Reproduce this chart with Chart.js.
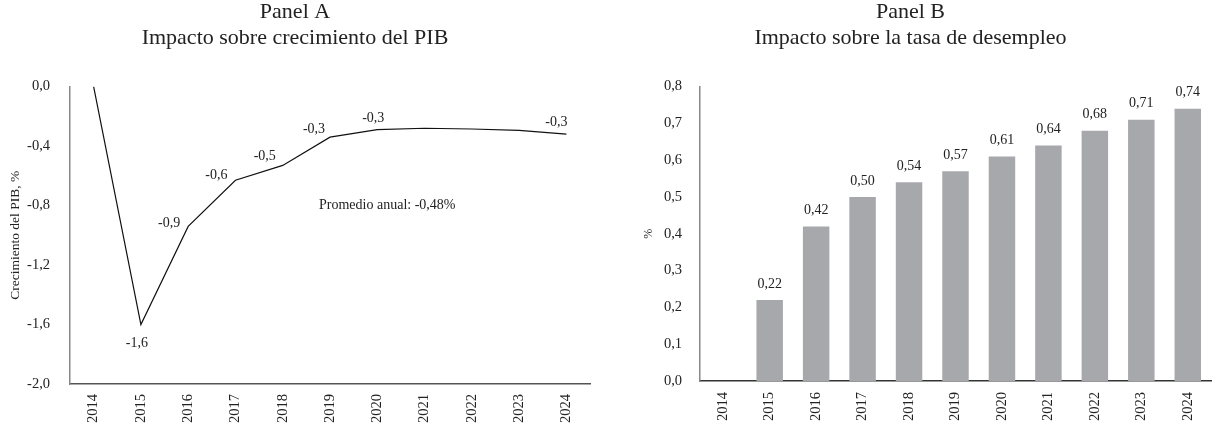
<!DOCTYPE html>
<html lang="es">
<head>
  <meta charset="UTF-8">
  <title>Impacto sobre PIB y desempleo</title>
  <script src="https://cdn.jsdelivr.net/npm/chart.js"></script>
  <style>
    body { margin: 0; background: white; }
    .panel { position: absolute; top: 0; height: 424px; }
    #panelA { left: 0; width: 600px; }
    #panelB { left: 610px; width: 607px; }
  </style>
</head>
<body>
  <div class="panel" id="panelA"><canvas id="chartA"></canvas></div>
  <div class="panel" id="panelB"><canvas id="chartB"></canvas></div>

  <script>
    // datos
    const years = ['2014', '2015', '2016', '2017', '2018', '2019', '2020', '2021', '2022', '2023', '2024'];
    const pibImpact = [0.0, -1.60, -0.94, -0.63, -0.53, -0.34, -0.29, -0.28, -0.285, -0.295, -0.32];
    const pibLabeled = [false, true, true, true, true, true, true, false, false, false, true];
    const unemploymentImpact = [null, 0.22, 0.42, 0.50, 0.54, 0.57, 0.61, 0.64, 0.68, 0.71, 0.74];
    const pibAverageText = 'Promedio anual: -0,48%';

    const FONT = '"Liberation Serif", "DejaVu Serif", serif';
    Chart.defaults.font.family = FONT;
    Chart.defaults.color = '#222';

    const comma = (v, d) => v.toFixed(d).replace('.', ',');

    // desplazamiento de etiquetas del panel A (px)
    const pibLabelOffsets = [[0, 0], [-4, 19], [-19, -3], [-19, -5], [-18, -9], [-16, -8], [-4, -11], [0, 0], [0, 0], [0, 0], [-10, -12]];

    const valueLabels = {
      id: 'valueLabels',
      afterDatasetsDraw(chart, args, opts) {
        const ctx = chart.ctx;
        const meta = chart.getDatasetMeta(0);
        const data = chart.data.datasets[0].data;
        ctx.save();
        ctx.font = '14px ' + FONT;
        ctx.fillStyle = '#222';
        ctx.textAlign = 'center';
        ctx.textBaseline = 'middle';
        meta.data.forEach((el, i) => {
          const v = data[i];
          if (v === null) return;
          if (opts.kind === 'line') {
            if (!pibLabeled[i]) return;
            const off = pibLabelOffsets[i];
            ctx.fillText(comma(v, 1), el.x + off[0], el.y + off[1]);
          } else {
            ctx.fillText(comma(v, 2), el.x, el.y - 16);
          }
        });
        if (opts.note) {
          const x = chart.scales.x.getPixelForValue(6) + 10;
          const y = chart.scales.y.getPixelForValue(-0.8);
          ctx.fillText(opts.note, x, y);
        }
        ctx.restore();
      }
    };

    function titleOpts(lines) {
      return {
        display: true,
        text: lines,
        color: '#222',
        font: { size: 22, weight: 'normal', lineHeight: 1.15 },
        padding: { top: 0, bottom: 36 }
      };
    }

    new Chart(document.getElementById('chartA'), {
      type: 'line',
      data: {
        labels: years,
        datasets: [{
          data: pibImpact,
          borderColor: '#111',
          borderWidth: 1.2,
          pointRadius: 0,
          tension: 0
        }]
      },
      options: {
        responsive: true,
        maintainAspectRatio: false,
        animation: false,
        layout: { padding: { top: 0, right: 10, bottom: 0, left: 0 } },
        plugins: {
          legend: { display: false },
          tooltip: { enabled: false },
          title: titleOpts(['Panel A', 'Impacto sobre crecimiento del PIB']),
          valueLabels: { kind: 'line', note: pibAverageText }
        },
        scales: {
          x: {
            offset: true,
            grid: { display: false },
            border: { color: '#555', width: 1.5 },
            ticks: { minRotation: 90, maxRotation: 90, padding: 2, color: '#222', font: { size: 14.5 } },
            afterFit(s) { s.height = 40; }
          },
          y: {
            min: -2, max: 0,
            grid: { display: false },
            border: { color: '#888', width: 1.5 },
            ticks: { stepSize: 0.4, padding: 12, color: '#222', font: { size: 14.5 }, callback: v => comma(v, 1) },
            title: { display: true, text: 'Crecimiento del PIB, %', color: '#222', font: { size: 13.5 }, padding: { top: 7, bottom: 0 } },
            afterFit(s) { s.width = 70; }
          }
        }
      },
      plugins: [valueLabels]
    });

    new Chart(document.getElementById('chartB'), {
      type: 'bar',
      data: {
        labels: years,
        datasets: [{
          data: unemploymentImpact,
          backgroundColor: '#a7a8ac',
          barPercentage: 0.57,
          categoryPercentage: 1
        }]
      },
      options: {
        responsive: true,
        maintainAspectRatio: false,
        animation: false,
        layout: { padding: { top: 0, right: 6, bottom: 0, left: 0 } },
        plugins: {
          legend: { display: false },
          tooltip: { enabled: false },
          title: titleOpts(['Panel B', 'Impacto sobre la tasa de desempleo']),
          valueLabels: { kind: 'bar' }
        },
        scales: {
          x: {
            grid: { display: false },
            border: { color: '#333', width: 1.5 },
            ticks: { minRotation: 90, maxRotation: 90, padding: 3, color: '#222', font: { size: 14.5 } },
            afterFit(s) { s.height = 43; }
          },
          y: {
            min: 0, max: 0.8,
            grid: { display: false },
            border: { color: '#888', width: 1.5 },
            ticks: { stepSize: 0.1, padding: 10, color: '#222', font: { size: 14.5 }, callback: v => comma(v, 1) },
            title: { display: true, text: '%', color: '#222', font: { size: 12 }, padding: { top: 32, bottom: 0 } },
            afterFit(s) { s.width = 90; }
          }
        }
      },
      plugins: [valueLabels]
    });
  </script>
</body>
</html>
